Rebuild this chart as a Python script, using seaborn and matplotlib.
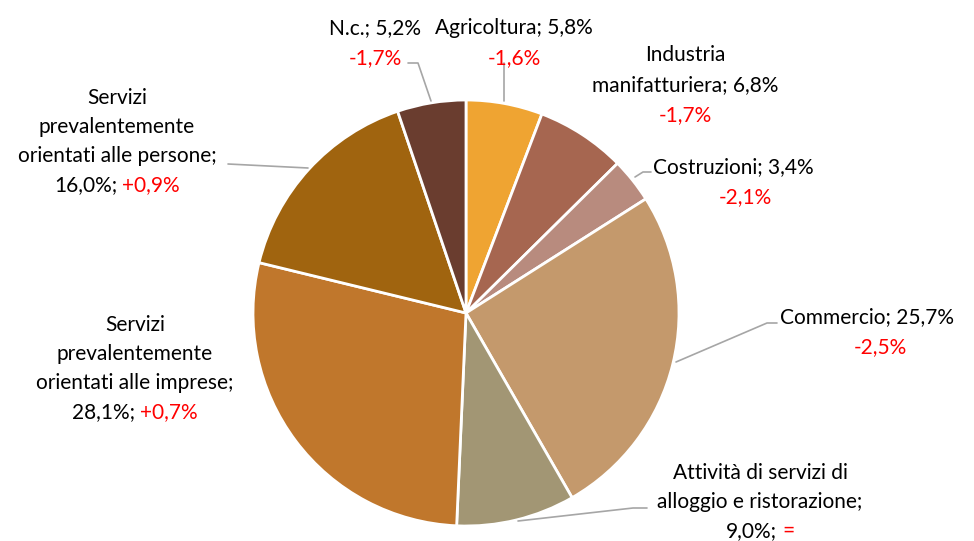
import matplotlib
matplotlib.use("Agg")
import matplotlib.pyplot as plt
import seaborn as sns

# dati
categorie = ["Agricoltura", "Industria manifatturiera", "Costruzioni", "Commercio",
             "Attività di servizi di alloggio e ristorazione",
             "Servizi prevalentemente orientati alle imprese",
             "Servizi prevalentemente orientati alle persone", "N.c."]
quote = [5.8, 6.8, 3.4, 25.7, 9.0, 28.1, 16.0, 5.2]
variazioni = ["-1,6%", "-1,7%", "-2,1%", "-2,5%", "=", "+0,7%", "+0,9%", "-1,7%"]
colori = ["#EFA432", "#A66650", "#B88B7E", "#C4996C", "#A29674", "#C0772C", "#A0640F", "#6A3D2F"]

# come vanno a capo le etichette (righe del nome) e se la variazione sta sulla stessa riga
righe_nome = [["Agricoltura;"], ["Industria", "manifatturiera;"], ["Costruzioni;"], ["Commercio;"],
              ["Attività di servizi di", "alloggio e ristorazione;"],
              ["Servizi", "prevalentemente", "orientati alle imprese;"],
              ["Servizi", "prevalentemente", "orientati alle persone;"], ["N.c.;"]]
in_linea = [False, False, False, False, True, True, True, False]

# posizioni delle righe (pixel, origine in alto)
pos_righe = [
    [(514, 28), (514, 58)],
    [(685, 55), (685, 85), (685, 115)],
    [(733, 167), (745, 197)],
    [(867, 317), (880, 347)],
    [(760, 473), (760, 502), (760, 531)],
    [(135, 325), (135, 354), (135, 383), (135, 412)],
    [(117, 98), (117, 127), (117, 156), (117, 185)],
    [(375, 28), (375, 58)],
]
linee_guida = [
    [(504, 63), (504, 101)],
    None,
    [(651, 172), (643, 172), (635, 177)],
    [(777, 323), (767, 323), (676, 362)],
    [(647, 508), (633, 508), (518, 521)],
    None,
    [(228, 164), (308, 168)],
    [(408, 63), (418, 63), (431, 101)],
]

W, H = 974, 541
sns.set_theme(style="white")
plt.rcParams["font.family"] = ["Lato", "DejaVu Sans"]

fig = plt.figure(figsize=(W / 100, H / 100), dpi=100)
ax = fig.add_axes([0, 0, 1, 1])
ax.set_xlim(0, W)
ax.set_ylim(0, H)
ax.axis("off")

ax.pie(quote, colors=colori, startangle=90, counterclock=False,
       center=(466, H - 313), radius=213,
       wedgeprops=dict(edgecolor="white", linewidth=2))
ax.set_xlim(0, W)
ax.set_ylim(0, H)
ax.set_aspect("equal")

renderer = fig.canvas.get_renderer()
FS = 15


def riga(xc, y, segmenti):
    testi = []
    larghezze = []
    for s, c in segmenti:
        t = ax.text(0, H - y, s, color=c, fontsize=FS, ha="left", va="center")
        larghezze.append(t.get_window_extent(renderer).width)
        testi.append(t)
    gap = 5
    tot = sum(larghezze) + gap * (len(testi) - 1)
    x = xc - tot / 2
    for t, w in zip(testi, larghezze):
        t.set_x(x)
        x += w + gap


for i in range(len(categorie)):
    quota = f"{quote[i]:.1f}%".replace(".", ",")
    nome = list(righe_nome[i])
    if in_linea[i]:
        righe = [[(r, "black")] for r in nome]
        righe.append([(quota + ";", "black"), (variazioni[i], "red")])
    else:
        nome[-1] = nome[-1] + " " + quota
        righe = [[(r, "black")] for r in nome]
        righe.append([(variazioni[i], "red")])
    for (xc, y), segs in zip(pos_righe[i], righe):
        riga(xc, y, segs)
    if linee_guida[i]:
        xs = [p[0] for p in linee_guida[i]]
        ys = [H - p[1] for p in linee_guida[i]]
        ax.plot(xs, ys, color="#A6A6A6", lw=1.2)

fig.savefig("out.png", dpi=100)
